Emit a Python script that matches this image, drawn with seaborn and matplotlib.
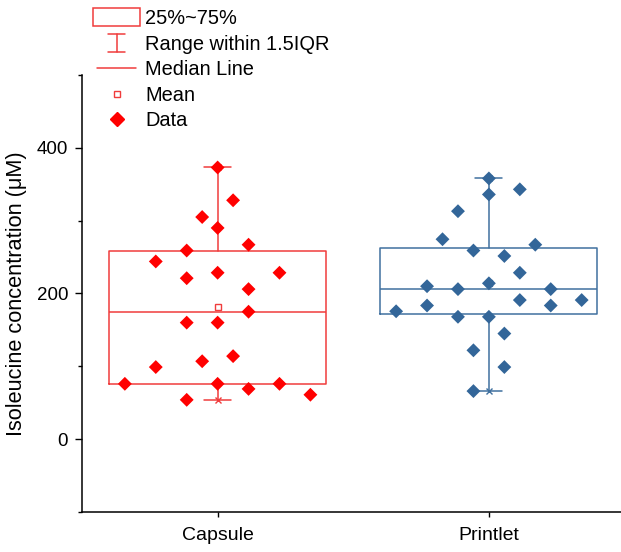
import numpy as np
import pandas as pd
import matplotlib
matplotlib.use("Agg")
import matplotlib.pyplot as plt
import seaborn as sns
from matplotlib.lines import Line2D
from matplotlib.patches import Rectangle
from matplotlib.legend_handler import HandlerBase
from matplotlib.ticker import MultipleLocator

# ---------------- data ----------------
categories = ["Capsule", "Printlet"]
capsule_values = [373, 328, 305, 290, 267, 259, 244, 221, 228.5, 228.5, 206, 175,
                  160, 160, 114, 107, 99, 76, 76, 76, 69, 61, 54]
capsule_slots = [0, 1, -1, 0, 2, -2, -4, -2, 0, 4, 2, 2, -2, 0, 1, -1, -4, -6, 0, 4, 2, 6, -2]
printlet_values = [358, 343, 336, 313, 274.5, 267, 259, 251.5, 228.5, 214, 210, 206, 206,
                   191, 191, 183.5, 183.5, 175.6, 168, 168, 145, 122, 99, 66]
printlet_slots = [0, 2, 0, -2, -3, 3, -1, 1, 2, 0, -4, -2, 4, 2, 6, -4, 4, -6, -2, 0, 1, -1, 1, -1]
box_q1 = [76, 172]
box_q3 = [259, 263]
whisker_low = [54, 66]
whisker_high = [373, 358]
legend_labels = ["25%~75%", "Range within 1.5IQR", "Median Line", "Mean", "Data"]

# ---------------- style ----------------
point_colors = ["#FF0000", "#336699"]
line_colors = ["#F03C3C", "#40709F"]
slot_w = 0.057

sns.set_style("ticks")
plt.rcParams["font.family"] = ["Liberation Sans", "DejaVu Sans"]
plt.rcParams.update({"text.color": "black", "axes.labelcolor": "black",
                     "xtick.color": "black", "ytick.color": "black"})
FS_LEG = 14.4
FS_XT = 14
FS_YT = 13.5
FS_YL = 15.7

fig = plt.figure(figsize=(6.21, 5.52), dpi=100)
ax = fig.add_axes([82/621, 40/552, (621-82)/621, (512-75)/552])

groups = [capsule_values, printlet_values]
slots = [capsule_slots, printlet_slots]

stats = []
for i, vals in enumerate(groups):
    v = np.asarray(vals, float)
    stats.append(dict(med=np.median(v), q1=box_q1[i], q3=box_q3[i],
                      whislo=whisker_low[i], whishi=whisker_high[i],
                      mean=v.mean(), fliers=[]))

for i in range(2):
    c = line_colors[i]
    ax.bxp([stats[i]], positions=[i], widths=0.8, capwidths=0.1, showmeans=True,
           showfliers=False,
           boxprops=dict(color=c, lw=1.1),
           whiskerprops=dict(color=c, lw=1.1),
           capprops=dict(color=c, lw=1.1),
           medianprops=dict(color=c, lw=1.1),
           meanprops=dict(marker="s", markersize=4.5, markerfacecolor="white",
                          markeredgecolor=c, markeredgewidth=1.0),
           manage_ticks=False, zorder=2)
    ax.plot([i, i], [whisker_low[i], whisker_high[i]], ls="none", marker="x",
            ms=5, mew=1.0, color=c, zorder=2)

for i, (vals, sl) in enumerate(zip(groups, slots)):
    df = pd.DataFrame({"x": i + np.asarray(sl) * slot_w, "y": vals})
    sns.scatterplot(data=df, x="x", y="y", ax=ax, marker="D", s=50,
                    color=point_colors[i], edgecolor="none", linewidth=0, zorder=3,
                    clip_on=False)

ax.set_xlim(-0.5, 1.487)
ax.set_ylim(-100, 500)
ax.set_xticks([0, 1])
ax.set_xticklabels(categories, fontsize=FS_XT)
ax.yaxis.set_major_locator(MultipleLocator(200))
ax.yaxis.set_minor_locator(MultipleLocator(100))
ax.tick_params(axis="y", which="major", length=5, width=1, labelsize=FS_YT, direction="out", pad=5)
ax.tick_params(axis="y", which="minor", length=3, width=1, direction="out")
ax.tick_params(axis="x", which="major", length=3.6, width=1, labelsize=FS_XT, direction="out", pad=7)
ax.set_xlabel("")
ax.set_ylabel("Isoleucine concentration (\u03bcM)", fontsize=FS_YL, labelpad=7)
for s in ["top", "right"]:
    ax.spines[s].set_visible(False)
for s in ["left", "bottom"]:
    ax.spines[s].set_linewidth(1.1)
    ax.spines[s].set_color("black")


# ---------------- legend ----------------
class BoxH(HandlerBase):
    def create_artists(self, legend, orig, xd, yd, w, h, fs, trans):
        return [Rectangle((-xd, -yd - 0.15 * h), w, 1.3 * h, fill=False,
                          ec=line_colors[0], lw=1.1, transform=trans)]


class RangeH(HandlerBase):
    def create_artists(self, legend, orig, xd, yd, w, h, fs, trans):
        cx = -xd + w / 2
        y0, y1 = -yd - 0.15 * h, -yd + 1.15 * h
        cw = 6
        arts = [Line2D([cx, cx], [y0, y1], color=line_colors[0], lw=1.1),
                Line2D([cx - cw, cx + cw], [y0, y0], color=line_colors[0], lw=1.1),
                Line2D([cx - cw, cx + cw], [y1, y1], color=line_colors[0], lw=1.1)]
        for a in arts:
            a.set_transform(trans)
        return arts


class LineH(HandlerBase):
    def create_artists(self, legend, orig, xd, yd, w, h, fs, trans):
        cx = -xd + w / 2
        y = -yd + h / 2
        a = Line2D([cx - 14, cx + 14], [y, y], color=line_colors[0], lw=1.1)
        a.set_transform(trans)
        return [a]


class MarkH(HandlerBase):
    def __init__(self, marker, ms, fc):
        super().__init__()
        self.marker, self.ms, self.fc = marker, ms, fc

    def create_artists(self, legend, orig, xd, yd, w, h, fs, trans):
        cx = -xd + w / 2
        y = -yd + h / 2
        a = Line2D([cx], [y], ls="none", marker=self.marker, ms=self.ms,
                   mfc=self.fc, mec=line_colors[0] if self.fc == "white" else self.fc,
                   mew=1.0)
        a.set_transform(trans)
        return [a]


handles = [object() for _ in range(5)]
hmap = {handles[0]: BoxH(), handles[1]: RangeH(), handles[2]: LineH(),
        handles[3]: MarkH("s", 4.5, "white"), handles[4]: MarkH("D", 7.2, point_colors[0])}
leg = fig.legend(handles, legend_labels, handler_map=hmap, loc="upper left",
                 bbox_to_anchor=(93/621, 1 - 9/552), frameon=False, fontsize=FS_LEG,
                 handlelength=2.35, handletextpad=0.25, labelspacing=0.33,
                 borderpad=0, borderaxespad=0)

fig.savefig("out.png", dpi=100)
